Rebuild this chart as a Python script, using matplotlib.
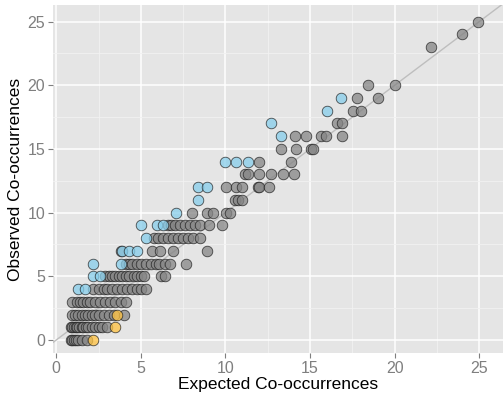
import matplotlib
matplotlib.use("Agg")
import matplotlib.pyplot as plt
from matplotlib.ticker import MultipleLocator

# observed co-occurrence counts (y) vs expected (x)
grey_x = [0.85, 0.95, 1.05, 1.15, 1.3, 1.5, 1.8,
          0.85, 0.95, 1.05, 1.15, 1.25, 1.35, 1.5, 1.6, 1.75, 1.9, 2.1, 2.3, 2.5, 2.7, 3.0,
          0.95, 1.1, 1.3, 1.5, 1.7, 1.9, 2.1, 2.3, 2.5, 2.8, 3.1, 3.4, 4.0,
          0.95, 1.2, 1.4, 1.6, 1.8, 2.0, 2.3, 2.6, 2.9, 3.2, 3.5, 3.8, 4.1,
          2.2, 2.5, 2.8, 3.0, 3.3, 3.6, 3.9, 4.2, 4.5, 4.8, 5.0, 5.3,
          2.9, 3.1, 3.3, 3.5, 3.7, 3.9, 4.1, 4.3, 4.6, 4.8, 5.0, 5.2, 6.2, 6.4,
          4.1, 4.3, 4.5, 4.8, 5.0, 5.3, 5.6, 5.9, 6.1, 6.4, 6.7, 7.65,
          3.8, 5.65, 6.15, 6.9, 8.9,
          5.75, 6.0, 6.3, 6.6, 6.9, 7.2, 7.5, 7.8, 8.1, 8.5,
          6.6, 6.8, 7.0, 7.3, 7.6, 7.9, 8.2, 8.5, 9.0, 9.8,
          8.0, 8.9, 9.25, 10.05, 10.25,
          10.55, 10.75, 10.95,
          10.05, 10.65, 11.0, 11.9, 12.0, 12.55,
          11.15, 11.35, 12.0, 12.7, 13.4, 14.05,
          12.0, 13.85,
          13.3, 14.15, 15.05, 15.15,
          14.1, 14.75, 15.65, 15.95, 16.9,
          16.6, 16.9,
          17.55, 18.0,
          17.8, 19.0,
          18.45, 20.0,
          22.15, 23.95, 24.95]
grey_y = ([0] * 7 + [1] * 15 + [2] * 13 + [3] * 13 + [4] * 12 + [5] * 14
          + [6] * 12 + [7] * 5 + [8] * 10 + [9] * 10 + [10] * 5 + [11] * 3
          + [12] * 6 + [13] * 6 + [14] * 2 + [15] * 4 + [16] * 5 + [17] * 2
          + [18] * 2 + [19] * 2 + [20] * 2 + [23, 24, 25])

blue_x = [1.3, 1.7, 2.15, 2.6, 2.15, 3.8, 3.9, 4.3, 4.75, 5.3, 5.0, 5.95, 6.3,
          7.05, 8.4, 8.4, 8.9, 9.95, 10.65, 11.35, 13.3, 12.7, 16.0, 16.85]
blue_y = [4, 4, 5, 5, 6, 6, 7, 7, 7, 8, 9, 9, 9,
          10, 11, 12, 12, 14, 14, 14, 16, 17, 18, 19]

orange_x = [2.2, 3.5, 3.6]
orange_y = [0, 1, 2]

plt.rcParams["font.family"] = ["Liberation Sans", "DejaVu Sans"]

fig = plt.figure(figsize=(5.03, 4.01), dpi=100)
ax = fig.add_axes([0.105, 0.119, 0.895, 0.8685])
ax.set_facecolor("#E5E5E5")

ax.set_xlim(-0.2, 26.4)
ax.set_ylim(-1.04, 26.3)
ax.xaxis.set_major_locator(MultipleLocator(5))
ax.yaxis.set_major_locator(MultipleLocator(5))
ax.xaxis.set_minor_locator(MultipleLocator(2.5))
ax.yaxis.set_minor_locator(MultipleLocator(2.5))
ax.grid(which="major", color="white", linewidth=1.1)
ax.grid(which="minor", color="#F2F2F2", linewidth=0.6)
ax.set_axisbelow(True)
for s in ax.spines.values():
    s.set_visible(False)

ax.tick_params(which="major", length=3.5, width=0.8, color="#7F7F7F",
               labelcolor="#7F7F7F", labelsize=11.5, pad=2)
ax.tick_params(which="minor", length=0)

ax.axline((0, 0), slope=1, color="#BEBEBE", linewidth=1, zorder=1)

kw = dict(s=58, edgecolors="#1A1A1A", linewidths=0.6, alpha=0.75, zorder=2)
ax.scatter(grey_x, grey_y, c="#858585", **kw)
ax.scatter(blue_x, blue_y, c="#87CEEB", **kw)
ax.scatter(orange_x, orange_y, c="#FFC23F", **kw)

ax.set_xlabel("Expected Co-occurrences", fontsize=12.5, labelpad=1)
ax.set_ylabel("Observed Co-occurrences", fontsize=12.5, labelpad=3)

fig.savefig("out.png", dpi=100)
